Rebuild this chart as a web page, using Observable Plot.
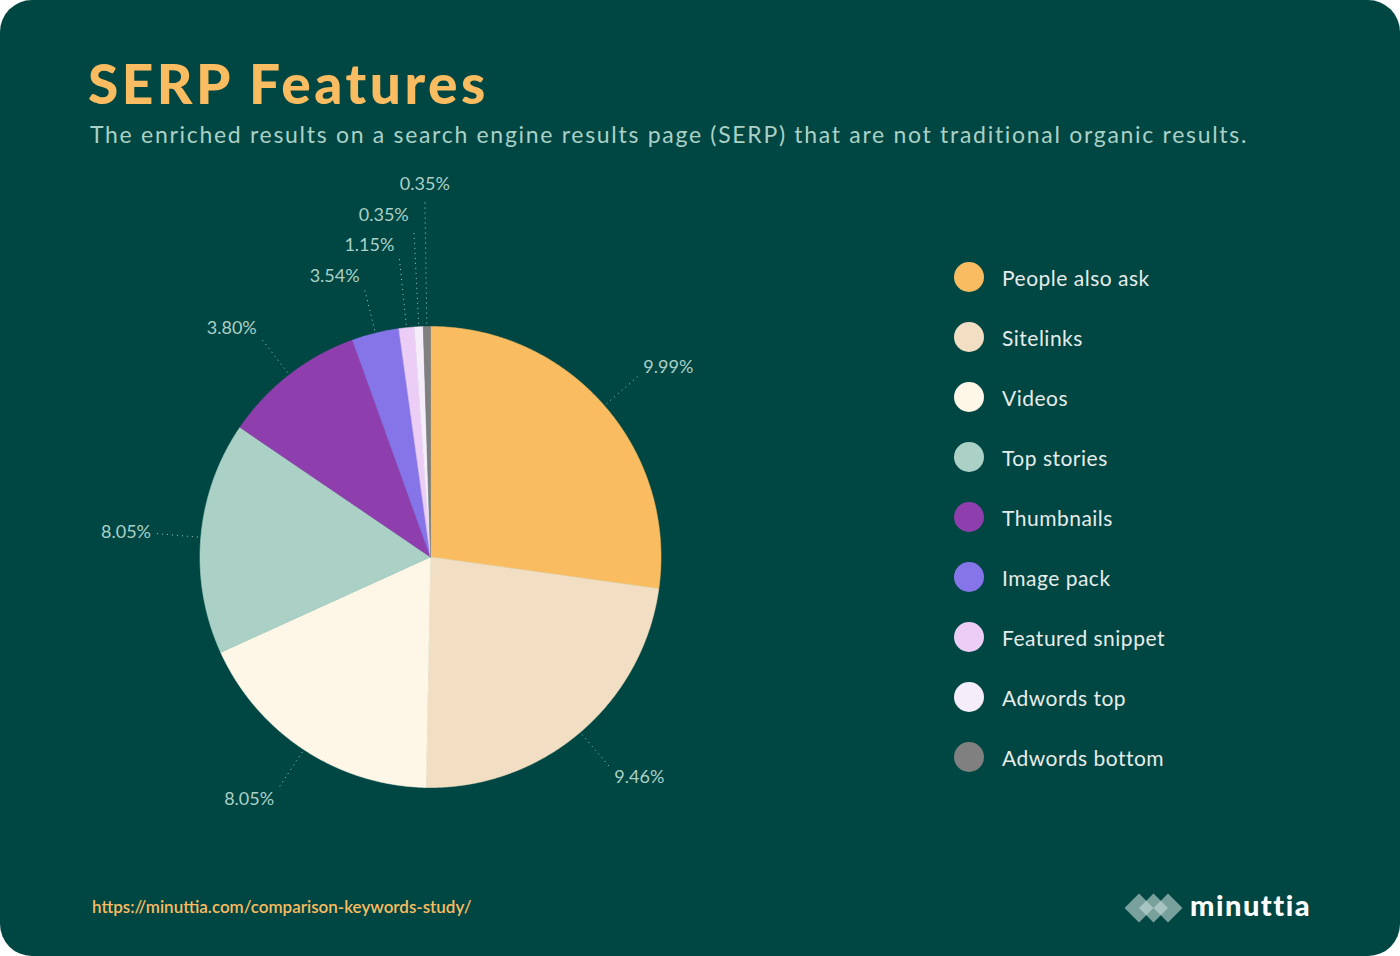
<!DOCTYPE html>
<html><head><meta charset="utf-8">
<script src="https://cdn.jsdelivr.net/npm/d3@7"></script>
<script src="https://cdn.jsdelivr.net/npm/@observablehq/plot@0.6"></script>
<style>
html,body{margin:0;padding:0;background:#ffffff;}
#card{position:relative;width:1400px;height:956px;background:#004643;border-radius:32px;overflow:hidden;font-family:Lato,"Noto Sans",sans-serif;}
#title{position:absolute;left:88px;top:56px;margin:0;font-size:55px;font-weight:900;color:#f9bc60;line-height:1;white-space:nowrap;letter-spacing:3.5px;}
#subtitle{position:absolute;left:90px;top:123px;font-size:23px;color:#abd1c6;line-height:1;white-space:nowrap;letter-spacing:1.7px;}
#chart{position:absolute;left:0;top:170px;width:900px;height:680px;}
.lg-dot{position:absolute;width:30px;height:30px;border-radius:50%;left:954px;}
.lg-txt{position:absolute;left:1002px;font-size:21px;color:#e6ecea;line-height:1;white-space:nowrap;letter-spacing:0.5px;}
#source{position:absolute;left:92px;top:898px;font-size:17px;color:#f9bc60;line-height:1;white-space:nowrap;font-weight:600;}
#logo-mark{position:absolute;left:1124px;top:893px;}
#logo-word{position:absolute;left:1190px;top:890px;font-size:29px;font-weight:900;color:#ffffff;line-height:1;letter-spacing:1.5px;}
</style></head><body>
<div id="card">
  <h1 id="title">SERP Features</h1>
  <div id="subtitle">The enriched results on a search engine results page (SERP) that are not traditional organic results.</div>
  <div id="chart"></div>
  <div id="legend"></div>
  <div id="source">https://minuttia.com/comparison-keywords-study/</div>
  <svg id="logo-mark" width="60" height="30" viewBox="0 0 60 30">
    <polygon points="15,0.5 29.5,15 15,29.5 0.5,15" fill="#c8dcd8" fill-opacity="0.6"/>
    <polygon points="29.5,0.5 44,15 29.5,29.5 15,15" fill="#c8dcd8" fill-opacity="0.6"/>
    <polygon points="44,0.5 58.5,15 44,29.5 29.5,15" fill="#c8dcd8" fill-opacity="0.6"/>
  </svg>
  <div id="logo-word">minuttia</div>
</div>
<script>
// ---- data ----
const features = ["People also ask", "Sitelinks", "Videos", "Top stories", "Thumbnails", "Image pack", "Featured snippet", "Adwords top", "Adwords bottom"];
// share of the circle taken by each slice (as drawn)
const shares = [27.2, 23.1, 17.9, 16.3, 10.0, 3.3, 1.07, 0.62, 0.5];
// percentage printed next to each slice
const shownPercent = [9.99, 9.46, 8.05, 8.05, 3.80, 3.54, 1.15, 0.35, 0.35];
const colors = ["#f9bc60", "#f2dfc3", "#fef6e6", "#abd1c6", "#8f3fad", "#8675e9", "#ebcdf5", "#f5edf9", "#808080"];

// ---- geometry (pixel units, centre of pie at 0,0) ----
const R = 230.5;
const arcs = d3.pie().sort(null).value(d => d)(shares);

const slicePts = [];
arcs.forEach((a, i) => {
  const k = features[i];
  slicePts.push({k, x: 0, y: 0});
  const n = Math.max(2, Math.ceil((a.endAngle - a.startAngle) / (Math.PI / 720)));
  for (let j = 0; j <= n; j++) {
    const t = a.startAngle + (a.endAngle - a.startAngle) * j / n;
    slicePts.push({k, x: R * Math.sin(t), y: R * Math.cos(t)});
  }
  slicePts.push({k, x: 0, y: 0});
});

// label layout with simple collision avoidance
const ctx = document.createElement("canvas").getContext("2d");
const FS = 18;
ctx.font = `${FS}px Lato`;
const placed = [];
const lbl = arcs.map((a, i) => {
  const text = shownPercent[i].toFixed(2) + "%";
  const w = ctx.measureText(text).width;
  const h = FS;
  const m = (a.startAngle + a.endAngle) / 2;
  const s = Math.sin(m), c = Math.cos(m);
  const place = r => {
    const ex = r * s, ey = r * c;
    const ox = Math.abs(s) < 0.03 ? 0 : Math.sign(s) * (w / 2 + 5);
    return {ex, ey, tx: ex + ox, ty: ey + c * 14};
  };
  let r = R + 45, p = place(r);
  const hits = q => placed.some(o => Math.abs(o.ty - q.ty) < (h + 12) && Math.abs(o.tx - q.tx) < (o.w + w) / 2 + 20);
  let guard = 0;
  while (hits(p) && guard++ < 400) { r += 1; p = place(r); }
  const d = {text, w, ...p, sx: (R + 3) * s, sy: (R + 3) * c};
  placed.push(d);
  return d;
});

const chart = Plot.plot({
  width: 900, height: 680,
  marginTop: 0, marginRight: 0, marginBottom: 0, marginLeft: 0,
  x: {domain: [-430, 470], axis: null},
  y: {domain: [-293.5, 386.5], axis: null},
  color: {domain: features, range: colors},
  style: {background: "transparent", fontFamily: "Lato, sans-serif", overflow: "visible"},
  marks: [
    Plot.line(slicePts, {x: "x", y: "y", z: "k", fill: "k", stroke: "k", strokeWidth: 0.6, curve: "linear"}),
    Plot.link(lbl, {x1: "sx", y1: "sy", x2: "ex", y2: "ey", stroke: "#c4e0d8", strokeOpacity: 0.85, strokeWidth: 1, strokeDasharray: "1 4"}),
    Plot.text(lbl, {x: "tx", y: "ty", text: "text", fill: "#abd1c6", fontSize: FS, textAnchor: "middle"})
  ]
});
document.getElementById("chart").appendChild(chart);

// legend
const lg = document.getElementById("legend");
features.forEach((f, i) => {
  const top = 261.7 + 60 * i;
  const dot = document.createElement("div");
  dot.className = "lg-dot";
  dot.style.top = top + "px";
  dot.style.background = colors[i];
  lg.appendChild(dot);
  const t = document.createElement("div");
  t.className = "lg-txt";
  t.style.top = (top + 5.5) + "px";
  t.textContent = f;
  lg.appendChild(t);
});
</script>
</body></html>
